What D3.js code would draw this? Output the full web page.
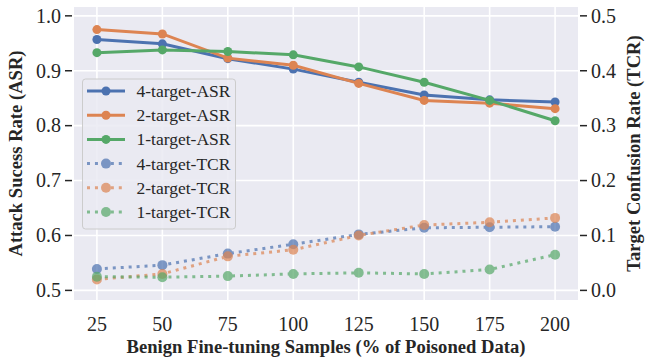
<!DOCTYPE html>
<html lang="en">
<head>
  <meta charset="UTF-8">
  <title>ASR / TCR vs benign fine-tuning samples</title>
  <style>
    body { margin: 0; background: #fff; }
    svg { display: block; font-family: "Liberation Serif", "Times New Roman", Times, serif; }
  </style>
  <script src="https://d3js.org/d3.v7.min.js"></script>
</head>
<body>
<svg width="652" height="358"></svg>
<script>
  // data
  const samples = [25, 50, 75, 100, 125, 150, 175, 200];
  const asr4 = [0.957, 0.949, 0.922, 0.903, 0.879, 0.856, 0.847, 0.843];
  const asr2 = [0.975, 0.967, 0.923, 0.910, 0.877, 0.846, 0.841, 0.831];
  const asr1 = [0.933, 0.938, 0.935, 0.929, 0.907, 0.879, 0.846, 0.809];
  const tcr4 = [0.039, 0.046, 0.067, 0.084, 0.102, 0.114, 0.115, 0.116];
  const tcr2 = [0.020, 0.030, 0.062, 0.074, 0.100, 0.119, 0.124, 0.132];
  const tcr1 = [0.025, 0.024, 0.026, 0.030, 0.032, 0.030, 0.038, 0.065];
  const leftTicks = [0.5, 0.6, 0.7, 0.8, 0.9, 1.0];
  const rightTicks = [0.0, 0.1, 0.2, 0.3, 0.4, 0.5];

  const blue = "#4C72B0", orange = "#DD8452", green = "#55A868";

  const series = [
    { name: "4-target-ASR", values: asr4, color: blue, axis: "left", dotted: false },
    { name: "2-target-ASR", values: asr2, color: orange, axis: "left", dotted: false },
    { name: "1-target-ASR", values: asr1, color: green, axis: "left", dotted: false },
    { name: "4-target-TCR", values: tcr4, color: blue, axis: "right", dotted: true },
    { name: "2-target-TCR", values: tcr2, color: orange, axis: "right", dotted: true },
    { name: "1-target-TCR", values: tcr1, color: green, axis: "right", dotted: true }
  ];

  const svg = d3.select("svg");
  const plot = { left: 74, right: 578, top: 7, bottom: 300 };

  const x = d3.scaleLinear().domain([16.25, 208.75]).range([plot.left, plot.right]);
  const yL = d3.scaleLinear().domain([0.4825, 1.0161]).range([plot.bottom, plot.top]);
  const yR = d3.scaleLinear().domain([-0.0175, 0.5161]).range([plot.bottom, plot.top]);

  // background
  svg.append("rect")
    .attr("x", plot.left).attr("y", plot.top)
    .attr("width", plot.right - plot.left).attr("height", plot.bottom - plot.top)
    .attr("fill", "#EAEAF2");

  // grid
  const grid = svg.append("g").attr("stroke", "#fff").attr("stroke-width", 1.6);
  grid.selectAll("line.gx").data(samples).enter().append("line")
    .attr("x1", d => x(d)).attr("x2", d => x(d))
    .attr("y1", plot.top).attr("y2", plot.bottom);
  grid.selectAll("line.gy").data(leftTicks).enter().append("line")
    .attr("x1", plot.left).attr("x2", plot.right)
    .attr("y1", d => yL(d)).attr("y2", d => yL(d));

  // axes
  const tickColor = "#262626";
  const leftAxis = svg.append("g");
  leftAxis.selectAll("line").data(leftTicks).enter().append("line")
    .attr("x1", plot.left - 9).attr("x2", plot.left - 2)
    .attr("y1", d => yL(d)).attr("y2", d => yL(d))
    .attr("stroke", tickColor).attr("stroke-width", 1.5);
  leftAxis.selectAll("text").data(leftTicks).enter().append("text")
    .attr("x", plot.left - 13).attr("y", d => yL(d))
    .attr("dy", "0.34em").attr("text-anchor", "end")
    .attr("font-size", 20).attr("fill", tickColor)
    .text(d => d3.format(".1f")(d));

  const rightAxis = svg.append("g");
  rightAxis.selectAll("line").data(rightTicks).enter().append("line")
    .attr("x1", plot.right + 2).attr("x2", plot.right + 9)
    .attr("y1", d => yR(d)).attr("y2", d => yR(d))
    .attr("stroke", tickColor).attr("stroke-width", 1.5);
  rightAxis.selectAll("text").data(rightTicks).enter().append("text")
    .attr("x", plot.right + 13).attr("y", d => yR(d))
    .attr("dy", "0.34em").attr("text-anchor", "start")
    .attr("font-size", 20).attr("fill", tickColor)
    .text(d => d3.format(".1f")(d));

  svg.append("g").selectAll("text").data(samples).enter().append("text")
    .attr("x", d => x(d)).attr("y", 331)
    .attr("text-anchor", "middle")
    .attr("font-size", 20).attr("fill", tickColor)
    .text(d => d);

  // axis titles
  svg.append("text")
    .attr("x", (plot.left + plot.right) / 2).attr("y", 353)
    .attr("text-anchor", "middle").attr("font-size", 18.6).attr("font-weight", "bold")
    .attr("fill", tickColor)
    .text("Benign Fine-tuning Samples (% of Poisoned Data)");
  svg.append("text")
    .attr("transform", `translate(22,${(plot.top + plot.bottom) / 2}) rotate(-90)`)
    .attr("text-anchor", "middle").attr("font-size", 18.6).attr("font-weight", "bold")
    .attr("fill", tickColor)
    .text("Attack Sucess Rate (ASR)");
  svg.append("text")
    .attr("transform", `translate(640,${(plot.top + plot.bottom) / 2}) rotate(-90)`)
    .attr("text-anchor", "middle").attr("font-size", 18.6).attr("font-weight", "bold")
    .attr("fill", tickColor)
    .text("Target Confusion Rate (TCR)");

  // lines and markers
  const marks = svg.append("g");
  series.forEach(s => {
    const y = s.axis === "left" ? yL : yR;
    const line = d3.line().x((d, i) => x(samples[i])).y(d => y(d));
    const g = marks.append("g").attr("opacity", s.dotted ? 0.7 : 1);
    g.append("path")
      .datum(s.values)
      .attr("d", line)
      .attr("fill", "none")
      .attr("stroke", s.color)
      .attr("stroke-width", 3)
      .attr("stroke-dasharray", s.dotted ? "3,4.95" : null);
    g.selectAll("circle").data(s.values).enter().append("circle")
      .attr("cx", (d, i) => x(samples[i]))
      .attr("cy", d => y(d))
      .attr("r", s.dotted ? 5 : 4.5)
      .attr("fill", s.color);
  });

  // legend
  const legend = svg.append("g");
  legend.append("rect")
    .attr("x", 82.5).attr("y", 79).attr("width", 153).attr("height", 150)
    .attr("rx", 3)
    .attr("fill", "#EAEAF2").attr("fill-opacity", 0.85)
    .attr("stroke", "#CCCCCC").attr("stroke-width", 1);
  series.forEach((s, i) => {
    const ly = 91 + i * 24.2;
    const g = legend.append("g").attr("opacity", s.dotted ? 0.7 : 1);
    g.append("line")
      .attr("x1", 87).attr("x2", 125).attr("y1", ly).attr("y2", ly)
      .attr("stroke", s.color).attr("stroke-width", 3)
      .attr("stroke-dasharray", s.dotted ? "3,4.95" : null);
    g.append("circle").attr("cx", 106).attr("cy", ly)
      .attr("r", s.dotted ? 5 : 4.5).attr("fill", s.color);
    legend.append("text")
      .attr("x", 136.5).attr("y", ly).attr("dy", "0.34em")
      .attr("font-size", 17.5).attr("fill", tickColor)
      .text(s.name);
  });
</script>
</body>
</html>
